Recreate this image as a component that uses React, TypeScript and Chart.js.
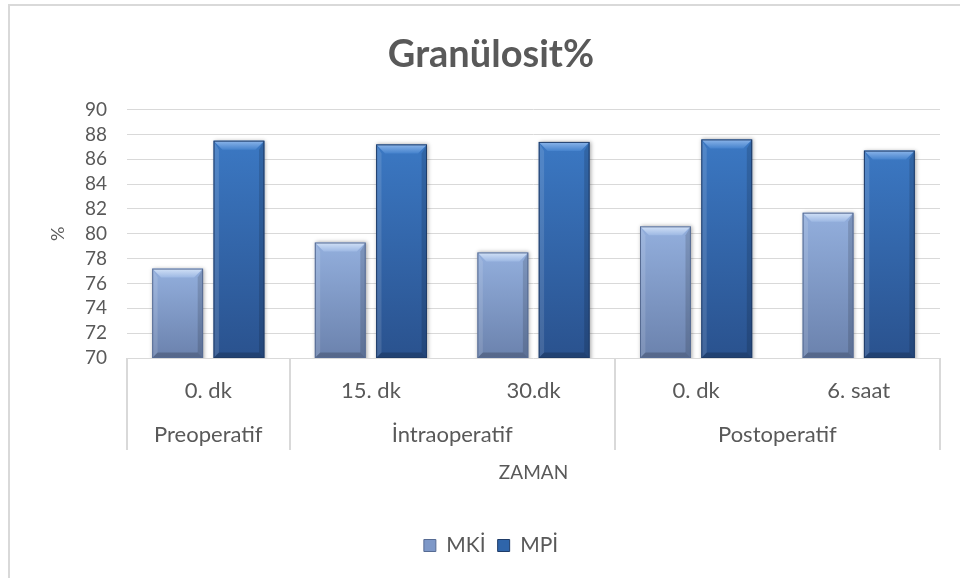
import React, { useEffect, useRef } from "react";
import { Chart, registerables } from "chart.js";

Chart.register(...registerables);

// ---- data ----
const categories = ["0. dk", "15. dk", "30.dk", "0. dk", "6. saat"];
const groupLabels = ["Preoperatif", "İntraoperatif", "Postoperatif"];
const groupSizes = [1, 2, 2];
const seriesNames = ["MKİ", "MPİ"];
const mkiValues = [77.2, 79.3, 78.5, 80.6, 81.7];
const mpiValues = [87.5, 87.2, 87.4, 87.6, 86.7];
const yTickValues = [70, 72, 74, 76, 78, 80, 82, 84, 86, 88, 90];
const chartTitle = "Granülosit%";
const xTitle = "ZAMAN";
const yTitle = "%";

// ---- style ----
const FONT = "Lato, 'Open Sans', sans-serif";
const TEXT = "#595959";
const GRID = "#d9d9d9";

const barStyles = [
  {
    top: "#93afdd",
    bottom: "#6b82ad",
    bevelTop: "#d3e2f7",
    bevelBottom: "#9db8e3",
    edge: "#566b93",
    legend: "#7e98c8",
  },
  {
    top: "#3b78c3",
    bottom: "#2a528e",
    bevelTop: "#8db6ea",
    bevelBottom: "#4683cd",
    edge: "#1f3c68",
    legend: "#2f65aa",
  },
];

export default function App() {
  const ref = useRef<HTMLCanvasElement>(null);

  useEffect(() => {
    const canvas = ref.current;
    if (!canvas) return;

    const gradientFor = (ctx: any, di: number) => {
      const st = barStyles[di];
      const chart = ctx.chart;
      if (!chart.chartArea || ctx.type !== "data") return st.top;
      const ys = chart.scales.y;
      const v = ctx.raw as number;
      const t = ys.getPixelForValue(v);
      const b = ys.bottom;
      const g = chart.ctx.createLinearGradient(0, t, 0, b);
      g.addColorStop(0, st.top);
      g.addColorStop(1, st.bottom);
      return g;
    };

    const shadowPlugin = {
      id: "barShadow",
      beforeDatasetsDraw(chart: any) {
        const c = chart.ctx;
        c.save();
        c.shadowColor = "rgba(0,0,0,0.35)";
        c.shadowBlur = 4;
        c.shadowOffsetX = 1;
        c.shadowOffsetY = 0;
      },
      afterDatasetsDraw(chart: any) {
        chart.ctx.restore();
      },
    };

    const bevelPlugin = {
      id: "bevel",
      afterDatasetsDraw(chart: any) {
        const c = chart.ctx;
        const area = chart.chartArea;
        chart.data.datasets.forEach((_ds: any, di: number) => {
          const st = barStyles[di];
          const meta = chart.getDatasetMeta(di);
          meta.data.forEach((el: any) => {
            const { x, y, base, width } = el.getProps(["x", "y", "base", "width"], true);
            const L = x - width / 2;
            const R = x + width / 2;
            const T = y;
            const B = Math.min(base, area.bottom);
            const bv = Math.min(9, (B - T) / 2);
            c.save();
            c.beginPath();
            c.rect(area.left, area.top - 2, area.right - area.left, area.bottom - area.top + 2);
            c.clip();
            // top bevel
            const g = c.createLinearGradient(0, T, 0, T + bv);
            g.addColorStop(0, st.bevelTop);
            g.addColorStop(1, st.bevelBottom);
            c.fillStyle = g;
            c.beginPath();
            c.moveTo(L, T);
            c.lineTo(R, T);
            c.lineTo(R - bv, T + bv);
            c.lineTo(L + bv, T + bv);
            c.closePath();
            c.fill();
            // left side
            c.fillStyle = "rgba(255,255,255,0.12)";
            c.beginPath();
            c.moveTo(L, T);
            c.lineTo(L + bv * 0.6, T + bv);
            c.lineTo(L + bv * 0.6, B - bv * 0.6);
            c.lineTo(L, B);
            c.closePath();
            c.fill();
            // right side
            c.fillStyle = "rgba(0,0,0,0.14)";
            c.beginPath();
            c.moveTo(R, T);
            c.lineTo(R - bv * 0.6, T + bv);
            c.lineTo(R - bv * 0.6, B - bv * 0.6);
            c.lineTo(R, B);
            c.closePath();
            c.fill();
            // bottom
            c.fillStyle = "rgba(0,0,0,0.2)";
            c.beginPath();
            c.moveTo(L, B);
            c.lineTo(L + bv * 0.6, B - bv * 0.6);
            c.lineTo(R - bv * 0.6, B - bv * 0.6);
            c.lineTo(R, B);
            c.closePath();
            c.fill();
            // outline
            c.strokeStyle = st.edge;
            c.lineWidth = 1;
            c.strokeRect(L + 0.5, T + 0.5, width - 1, B - T - 1);
            c.restore();
          });
        });
      },
    };

    const multiLevelPlugin = {
      id: "multiLevel",
      afterDraw(chart: any) {
        const xs = chart.scales.x;
        const area = chart.chartArea;
        const c = chart.ctx;
        const top = area.bottom;
        const bottom = top + 92;
        const half = (xs.getPixelForValue(1) - xs.getPixelForValue(0)) / 2;
        const bounds: number[][] = [];
        let idx = 0;
        groupSizes.forEach((n) => {
          bounds.push([idx, idx + n - 1]);
          idx += n;
        });
        const lineXs = [xs.getPixelForValue(0) - half];
        bounds.forEach(([, e]) => lineXs.push(xs.getPixelForValue(e) + half));
        c.save();
        c.strokeStyle = GRID;
        c.lineWidth = 2;
        lineXs.forEach((px) => {
          c.beginPath();
          c.moveTo(Math.round(px), top);
          c.lineTo(Math.round(px), bottom);
          c.stroke();
        });
        c.font = `22px ${FONT}`;
        c.fillStyle = TEXT;
        c.textAlign = "center";
        c.textBaseline = "middle";
        bounds.forEach(([s, e], gi) => {
          const cx = (xs.getPixelForValue(s) + xs.getPixelForValue(e)) / 2;
          c.fillText(groupLabels[gi], cx, top + 77);
        });
        c.restore();
      },
    };

    Chart.defaults.font.family = FONT;
    Chart.defaults.color = TEXT;

    const chart = new Chart(canvas, {
      type: "bar",
      data: {
        labels: categories,
        datasets: [
          {
            label: seriesNames[0],
            data: mkiValues,
            backgroundColor: (ctx: any) => gradientFor(ctx, 0),
            borderWidth: 0,
            categoryPercentage: 0.754,
            barPercentage: 0.83,
          },
          {
            label: seriesNames[1],
            data: mpiValues,
            backgroundColor: (ctx: any) => gradientFor(ctx, 1),
            borderWidth: 0,
            categoryPercentage: 0.754,
            barPercentage: 0.83,
          },
        ],
      },
      options: {
        animation: false,
        responsive: false,
        maintainAspectRatio: false,
        layout: { padding: { left: 0, right: 2, top: 0, bottom: 40 } },
        plugins: {
          title: {
            display: true,
            text: chartTitle,
            color: TEXT,
            font: { size: 38, weight: "bold", family: FONT },
            padding: { top: 26, bottom: 32 },
          },
          legend: {
            position: "bottom",
            labels: {
              boxWidth: 12,
              boxHeight: 12,
              padding: 12,
              color: TEXT,
              font: { size: 21, family: FONT },
              generateLabels: (ch: any) =>
                ch.data.datasets.map((ds: any, i: number) => ({
                  text: ds.label,
                  fillStyle: barStyles[i].legend,
                  strokeStyle: barStyles[i].edge,
                  lineWidth: 1,
                  hidden: false,
                  datasetIndex: i,
                  fontColor: TEXT,
                })),
            },
          },
          tooltip: { enabled: false },
        },
        scales: {
          x: {
            grid: { display: false, drawTicks: false },
            border: { display: false },
            ticks: {
              color: TEXT,
              font: { size: 22 },
              padding: 20,
              maxRotation: 0,
              autoSkip: false,
            },
            title: {
              display: true,
              text: xTitle,
              color: TEXT,
              font: { size: 19 },
              padding: { top: 0, bottom: 39 },
            },
            afterFit: (s: any) => {
              s.height = 165;
            },
          },
          y: {
            min: 70,
            max: 90,
            grid: { color: GRID, lineWidth: 1, drawTicks: false },
            border: { display: false },
            ticks: { color: TEXT, font: { size: 19, lineHeight: 1 }, padding: 20, autoSkip: false },
            afterBuildTicks: (s: any) => {
              s.ticks = yTickValues.map((v) => ({ value: v }));
            },
            title: {
              display: true,
              text: yTitle,
              color: TEXT,
              font: { size: 18 },
              padding: { top: 37, bottom: 0 },
            },
            afterFit: (s: any) => {
              s.width = 117;
            },
          },
          yR: {
            type: "linear",
            position: "right",
            display: true,
            grid: { display: false, drawTicks: false },
            border: { display: false },
            ticks: { display: false },
            afterFit: (s: any) => {
              s.width = 32;
            },
          },
        },
      },
      plugins: [shadowPlugin, bevelPlugin, multiLevelPlugin],
    } as any);

    return () => chart.destroy();
  }, []);

  return (
    <div
      style={{
        position: "fixed",
        left: 0,
        top: 0,
        width: 960,
        height: 578,
        overflow: "hidden",
        background: "#ffffff",
      }}
    >
      <div
        style={{
          position: "absolute",
          left: 8,
          top: 4,
          width: 966,
          height: 620,
          borderLeft: "2px solid #d9d9d9",
          borderTop: "2px solid #d9d9d9",
          boxSizing: "border-box",
        }}
      >
        <canvas
          ref={ref}
          width={964}
          height={600}
          style={{ display: "block", width: 964, height: 600 }}
        />
      </div>
    </div>
  );
}
